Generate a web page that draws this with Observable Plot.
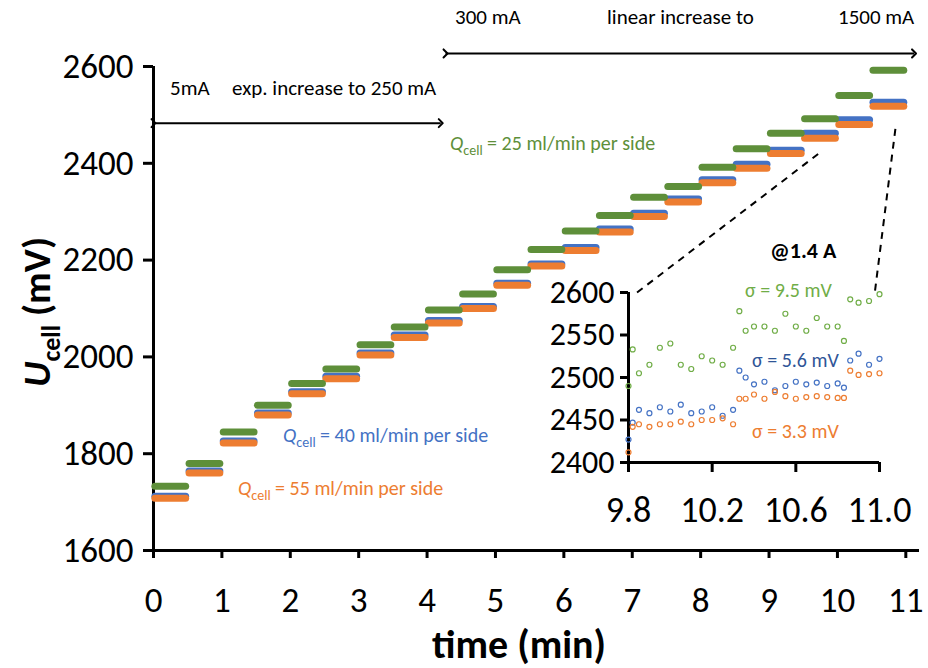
<!DOCTYPE html>
<html><head><meta charset="utf-8">
<script src="https://cdn.jsdelivr.net/npm/d3@7"></script>
<script src="https://cdn.jsdelivr.net/npm/@observablehq/plot@0.6"></script>
<style>body{margin:0;font-family:Calibri,Carlito,"Open Sans",Arial,sans-serif}#wrap{position:relative;width:928px;height:668px}#wrap svg{position:absolute;left:0;top:0}</style>
</head><body><div id="wrap"></div>
<script>
// main chart: step start times and step voltage levels (mV)
const stepStart = [0,0.5,1,1.5,2,2.5,3,3.5,4,4.5,5,5.5,6,6.5,7,7.5,8,8.5,9,9.5,10,10.5];
const greenLvl  = [1733,1780,1845,1900,1945,1975,2025,2062,2097,2130,2180,2222,2260,2292,2330,2352,2392,2430,2462,2492,2540,2592];
const blueLvl   = [1712,1764,1826,1884,1928,1960,2008,2045,2075,2104,2152,2192,2226,2264,2297,2326,2366,2398,2427,2462,2490,2526];
const orangeLvl = [1708,1760,1822,1880,1924,1955,2004,2040,2070,2100,2148,2188,2220,2258,2290,2320,2360,2390,2420,2452,2480,2518];
// inset
const insetT = [9.8,9.82,9.85,9.9,9.95,10.0,10.05,10.1,10.15,10.2,10.25,10.3,10.33,10.36,10.4,10.45,10.5,10.55,10.6,10.65,10.7,10.75,10.8,10.83,10.86,10.9,10.95,11.0];
const insetGreen = [2490,2533,2505,2515,2535,2540,2515,2510,2525,2520,2515,2535,2578,2555,2560,2560,2555,2575,2560,2555,2570,2560,2560,2543,2592,2588,2590,2598];
const insetBlue = [2427,2447,2462,2458,2465,2460,2468,2458,2460,2465,2455,2462,2508,2500,2492,2495,2485,2490,2495,2492,2494,2490,2493,2488,2520,2528,2515,2522];
const insetOrange = [2412,2442,2445,2442,2445,2445,2448,2445,2450,2450,2452,2445,2475,2475,2480,2475,2483,2478,2475,2477,2478,2477,2476,2476,2508,2503,2504,2505];
const xTicks = [0,1,2,3,4,5,6,7,8,9,10,11];
const yTicks = [1600,1800,2000,2200,2400,2600];
const insetXTicks = [9.8,10.2,10.6,11.0];
const insetYTicks = [2400,2450,2500,2550,2600];

const G="#5E8F3A", B="#4472C4", O="#ED7D31";
const steps = stepStart.map((t,i)=>({t0:t+0.02,t1:t+0.47,g:greenLvl[i],b:blueLvl[i],o:orangeLvl[i]}));
const font = 'Calibri,Carlito,"Open Sans",Arial,sans-serif';

const main = Plot.plot({
  width:928,height:668,marginLeft:153,marginRight:9,marginTop:66,marginBottom:118,
  style:{background:"transparent",fontFamily:font},
  x:{domain:[0,11.2],label:null},
  y:{domain:[1600,2600],label:null},
  marks:[
    Plot.axisX({ticks:xTicks,tickSize:8,strokeWidth:3,label:null,tickFormat:()=>""}),
    Plot.axisY({ticks:yTicks,tickSize:10,strokeWidth:3,label:null,tickFormat:()=>""}),
    Plot.text(xTicks,{x:d=>d,y:1600,text:d=>String(d),fontSize:35,dy:50}),
    Plot.text(yTicks,{x:0,y:d=>d,text:d=>String(d),fontSize:35,textAnchor:"end",dx:-20}),
    Plot.ruleX([0],{strokeWidth:3}),
    Plot.ruleY([1600],{strokeWidth:3}),
    Plot.link(steps,{x1:"t0",x2:"t1",y1:"b",y2:"b",stroke:B,strokeWidth:7,strokeLinecap:"round"}),
    Plot.link(steps,{x1:"t0",x2:"t1",y1:"o",y2:"o",stroke:O,strokeWidth:7,strokeLinecap:"round"}),
    Plot.link(steps,{x1:"t0",x2:"t1",y1:"g",y2:"g",stroke:G,strokeWidth:7,strokeLinecap:"round"}),
    Plot.link([{x1:0,x2:4.2,y:2483}],{x1:"x1",x2:"x2",y1:"y",y2:"y",markerStart:"arrow",markerEnd:"arrow",strokeWidth:2}),
    Plot.link([{x1:4.27,x2:11.12,y:2627}],{x1:"x1",x2:"x2",y1:"y",y2:"y",markerStart:"arrow",markerEnd:"arrow",strokeWidth:2}),
    Plot.link([{x1:7.07,y1:2133,x2:9.78,y2:2426},{x1:10.55,y1:2137,x2:10.85,y2:2474}],{x1:"x1",y1:"y1",x2:"x2",y2:"y2",strokeDasharray:"7,6",strokeWidth:2})
  ]
});
const inset = Plot.plot({
  width:928,height:668,marginLeft:628,marginRight:49,marginTop:292,marginBottom:206,
  style:{background:"transparent",fontFamily:font},
  x:{domain:[9.8,11.0],label:null},
  y:{domain:[2400,2600],label:null},
  marks:[
    Plot.axisX({ticks:insetXTicks,tickSize:10,strokeWidth:3,tickFormat:()=>"",label:null}),
    Plot.axisY({ticks:insetYTicks,tickSize:8,strokeWidth:3,label:null,tickFormat:()=>""}),
    Plot.text(insetXTicks,{x:d=>d,y:2400,text:d3.format(".1f"),fontSize:36,dy:48}),
    Plot.text(insetYTicks,{x:9.8,y:d=>d,text:d=>String(d),fontSize:32,textAnchor:"end",dx:-14}),
    Plot.ruleX([9.8],{strokeWidth:3}),
    Plot.ruleY([2400],{strokeWidth:3}),
    Plot.dot(insetT,{x:d=>d,y:(d,i)=>insetGreen[i],r:2.5,stroke:"#70AD47",strokeWidth:1.2}),
    Plot.dot(insetT,{x:d=>d,y:(d,i)=>insetBlue[i],r:2.5,stroke:B,strokeWidth:1.2}),
    Plot.dot(insetT,{x:d=>d,y:(d,i)=>insetOrange[i],r:2.5,stroke:O,strokeWidth:1.2})
  ]
});
const wrap=document.getElementById("wrap");
wrap.append(main); wrap.append(inset);

const ov=d3.select(wrap).append("svg").attr("width",928).attr("height",668).style("font-family",font);
function t(x,y,s,opt={}){return ov.append("text").attr("x",x).attr("y",y).attr("font-size",opt.size||21).attr("fill",opt.fill||"#000").attr("font-weight",opt.bold?"bold":null).attr("text-anchor",opt.anchor||"start").text(s);}
t(170,95,"5mA");t(232,95,"exp. increase to 250 mA");
t(455,24,"300 mA");t(607,24,"linear increase to");t(838,24,"1500 mA");
function q(x,y,rest,fill){const e=ov.append("text").attr("x",x).attr("y",y).attr("font-size",20).attr("fill",fill);
 e.append("tspan").attr("font-style","italic").text("Q");e.append("tspan").attr("font-size",14).attr("dy",5).text("cell");e.append("tspan").attr("dy",-5).text(" "+rest);}
q(450,150,"= 25 ml/min per side",G);q(283,442,"= 40 ml/min per side",B);q(238,495,"= 55 ml/min per side",O);
t(770,258,"@1.4 A",{bold:true,size:22});
t(745,297,"σ = 9.5 mV",{fill:"#70AD47",size:20});t(752,367,"σ = 5.6 mV",{fill:"#2F5597",size:20});t(752,438,"σ = 3.3 mV",{fill:O,size:20});
ov.append("text").attr("x",519).attr("y",658).attr("text-anchor","middle").attr("font-size",40).attr("font-weight","bold").text("time (min)");
const yl=ov.append("text").attr("transform","translate(50,312) rotate(-90)").attr("text-anchor","middle").attr("font-size",39).attr("font-weight","bold");
yl.append("tspan").attr("font-style","italic").text("U");yl.append("tspan").attr("font-size",26).attr("dy",10).text("cell");yl.append("tspan").attr("dy",-10).text(" (mV)");
</script></body></html>
